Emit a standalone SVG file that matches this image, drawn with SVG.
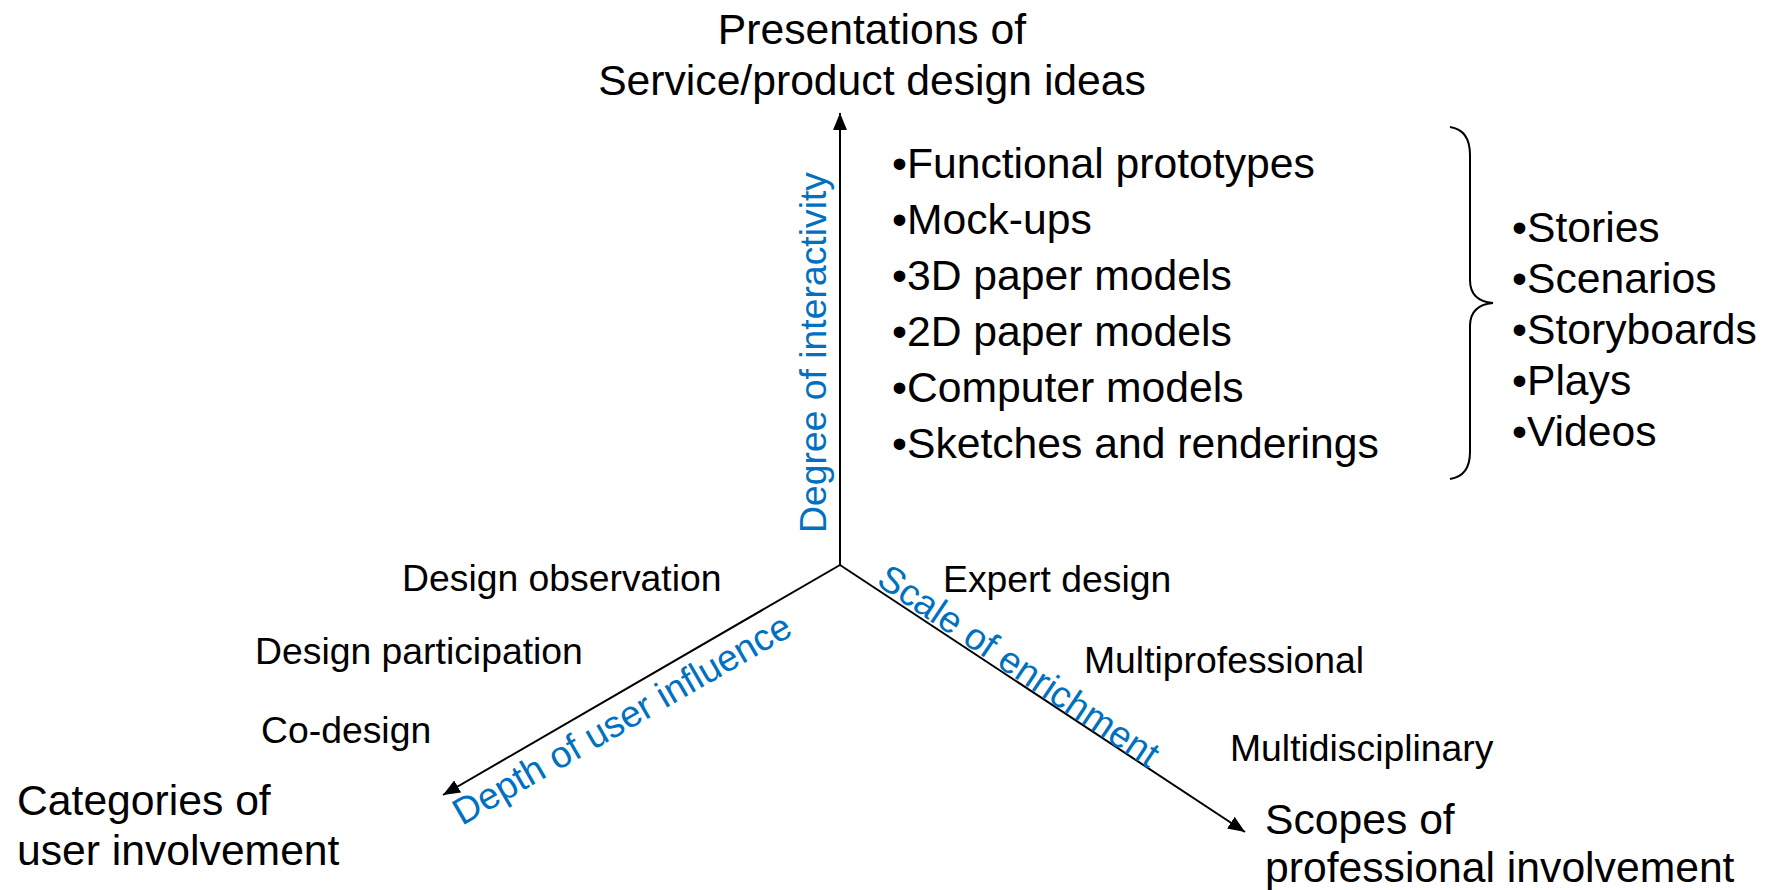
<svg xmlns="http://www.w3.org/2000/svg" width="1771" height="890" viewBox="0 0 1771 890">
  <style>
    text { font-family: "Liberation Sans", Arial, sans-serif; fill: #000; }
    .big { font-size: 42.67px; }
    .small { font-size: 37.33px; }
    .axis-label { font-size: 37.33px; fill: #0070C0; }
    .axis { stroke: #000; stroke-width: 2; fill: none; }
    .brace { stroke: #000; stroke-width: 2; fill: none; }
  </style>
  <defs>
    <marker id="arrow" markerUnits="userSpaceOnUse" markerWidth="18" markerHeight="14" refX="17" refY="7" orient="auto">
      <path d="M0,0 L17,7 L0,14 z" fill="#000"/>
    </marker>
  </defs>

  <rect width="1771" height="890" fill="#fff"/>

  <!-- three axes from the common origin -->
  <g id="connectors">
    <line class="axis" x1="840" y1="565" x2="840" y2="113" marker-end="url(#arrow)"/>
    <line class="axis" x1="840" y1="565" x2="443" y2="795" marker-end="url(#arrow)"/>
    <line class="axis" x1="840" y1="565" x2="1245" y2="832" marker-end="url(#arrow)"/>
  </g>

  <!-- axis names -->
  <g id="axis-presentations">
    <text class="big" x="872" y="44" text-anchor="middle">Presentations of</text>
    <text class="big" x="872" y="95" text-anchor="middle">Service/product design ideas</text>
  </g>
  <g id="axis-users">
    <text class="big" x="17" y="815">Categories of</text>
    <text class="big" x="17" y="865">user involvement</text>
  </g>
  <g id="axis-professionals">
    <text class="big" x="1265" y="834">Scopes of</text>
    <text class="big" x="1265" y="882">professional involvement</text>
  </g>

  <!-- dimension labels along the axes -->
  <g id="label-interactivity">
    <text class="axis-label" transform="translate(826,533) rotate(-90)">Degree of interactivity</text>
  </g>
  <g id="label-user-influence">
    <text class="axis-label" transform="translate(462,826) rotate(-30)">Depth of user influence</text>
  </g>
  <g id="label-enrichment">
    <text class="axis-label" transform="translate(875,584) rotate(34)">Scale of enrichment</text>
  </g>

  <!-- presentation forms -->
  <g id="list-models">
    <text class="big" x="892" y="178">•Functional prototypes</text>
    <text class="big" x="892" y="234">•Mock-ups</text>
    <text class="big" x="892" y="290">•3D paper models</text>
    <text class="big" x="892" y="346">•2D paper models</text>
    <text class="big" x="892" y="402">•Computer models</text>
    <text class="big" x="892" y="458">•Sketches and renderings</text>
  </g>
  <g id="brace">
    <path class="brace" d="M1450,127 Q1470,130 1470,155 L1470,280 Q1470,301 1493,303 Q1470,305 1470,326 L1470,452 Q1470,476 1450,479"/>
  </g>
  <g id="list-narratives">
    <text class="big" x="1512" y="242">•Stories</text>
    <text class="big" x="1512" y="293">•Scenarios</text>
    <text class="big" x="1512" y="344">•Storyboards</text>
    <text class="big" x="1512" y="395">•Plays</text>
    <text class="big" x="1512" y="446">•Videos</text>
  </g>

  <!-- categories of user involvement -->
  <g id="user-categories">
    <text class="small" x="402" y="591">Design observation</text>
    <text class="small" x="255" y="664">Design participation</text>
    <text class="small" x="261" y="743">Co-design</text>
  </g>

  <!-- scopes of professional involvement -->
  <g id="professional-scopes">
    <text class="small" x="943" y="592">Expert design</text>
    <text class="small" x="1084" y="673">Multiprofessional</text>
    <text class="small" x="1230" y="761">Multidisciplinary</text>
  </g>
</svg>
